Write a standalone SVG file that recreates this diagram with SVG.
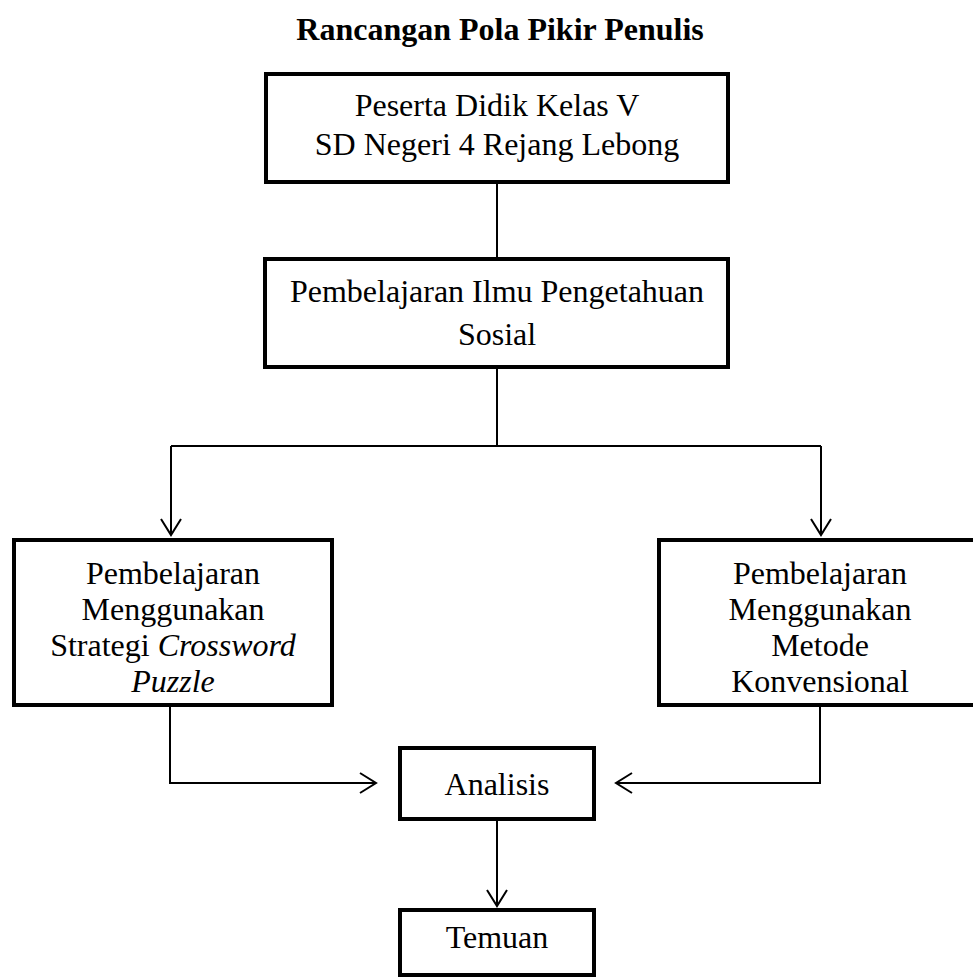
<svg xmlns="http://www.w3.org/2000/svg" width="973" height="978" viewBox="0 0 973 978">
<style>
.box{fill:#fff;stroke:#000;stroke-width:4}
.t{font-family:"Liberation Serif","Times New Roman",serif;font-size:32px;fill:#000;text-anchor:middle}
.title{font-weight:bold}
.c{fill:none;stroke:#000;stroke-width:2}
</style>
<defs>
<marker id="arr" markerUnits="userSpaceOnUse" markerWidth="24" markerHeight="28" viewBox="-20 -14 24 28" refX="0" refY="0" orient="auto" overflow="visible">
<path d="M-16,-10 L0,0 L-16,10" fill="none" stroke="#000" stroke-width="2"/>
</marker>
</defs>
<rect width="973" height="978" fill="#fff"/>
<text class="t title" x="500" y="40">Rancangan Pola Pikir Penulis</text>
<g id="connectors">
<path class="c" d="M497,184 L497,257"/>
<path class="c" d="M497,369 L497,446"/>
<path class="c" d="M171,446 L821,446"/>
<path class="c" d="M171,446 L171,535" marker-end="url(#arr)"/>
<path class="c" d="M821,446 L821,535" marker-end="url(#arr)"/>
<path class="c" d="M170,707 L170,783 L376,783" marker-end="url(#arr)"/>
<path class="c" d="M820,707 L820,783 L616,783" marker-end="url(#arr)"/>
<path class="c" d="M497,821 L497,906" marker-end="url(#arr)"/>
</g>
<g id="node-peserta">
<rect class="box" x="266" y="74" width="462" height="108"/>
<text class="t" x="497" y="116">Peserta Didik Kelas V</text>
<text class="t" x="497" y="155">SD Negeri 4 Rejang Lebong</text>
</g>
<g id="node-ips">
<rect class="box" x="265" y="259" width="463" height="108"/>
<text class="t" x="497" y="302">Pembelajaran Ilmu Pengetahuan</text>
<text class="t" x="497" y="345">Sosial</text>
</g>
<g id="node-crossword">
<rect class="box" x="14" y="540" width="318" height="165"/>
<text class="t" x="173" y="584">Pembelajaran</text>
<text class="t" x="173" y="620">Menggunakan</text>
<text class="t" x="173" y="656">Strategi <tspan font-style="italic">Crossword</tspan></text>
<text class="t" x="173" y="692" font-style="italic">Puzzle</text>
</g>
<g id="node-konvensional">
<rect class="box" x="659" y="540" width="321" height="165"/>
<text class="t" x="820" y="584">Pembelajaran</text>
<text class="t" x="820" y="620">Menggunakan</text>
<text class="t" x="820" y="656">Metode</text>
<text class="t" x="820" y="692">Konvensional</text>
</g>
<g id="node-analisis">
<rect class="box" x="400" y="748" width="194" height="71"/>
<text class="t" x="497" y="795">Analisis</text>
</g>
<g id="node-temuan">
<rect class="box" x="400" y="910" width="194" height="65"/>
<text class="t" x="497" y="948">Temuan</text>
</g>
</svg>
